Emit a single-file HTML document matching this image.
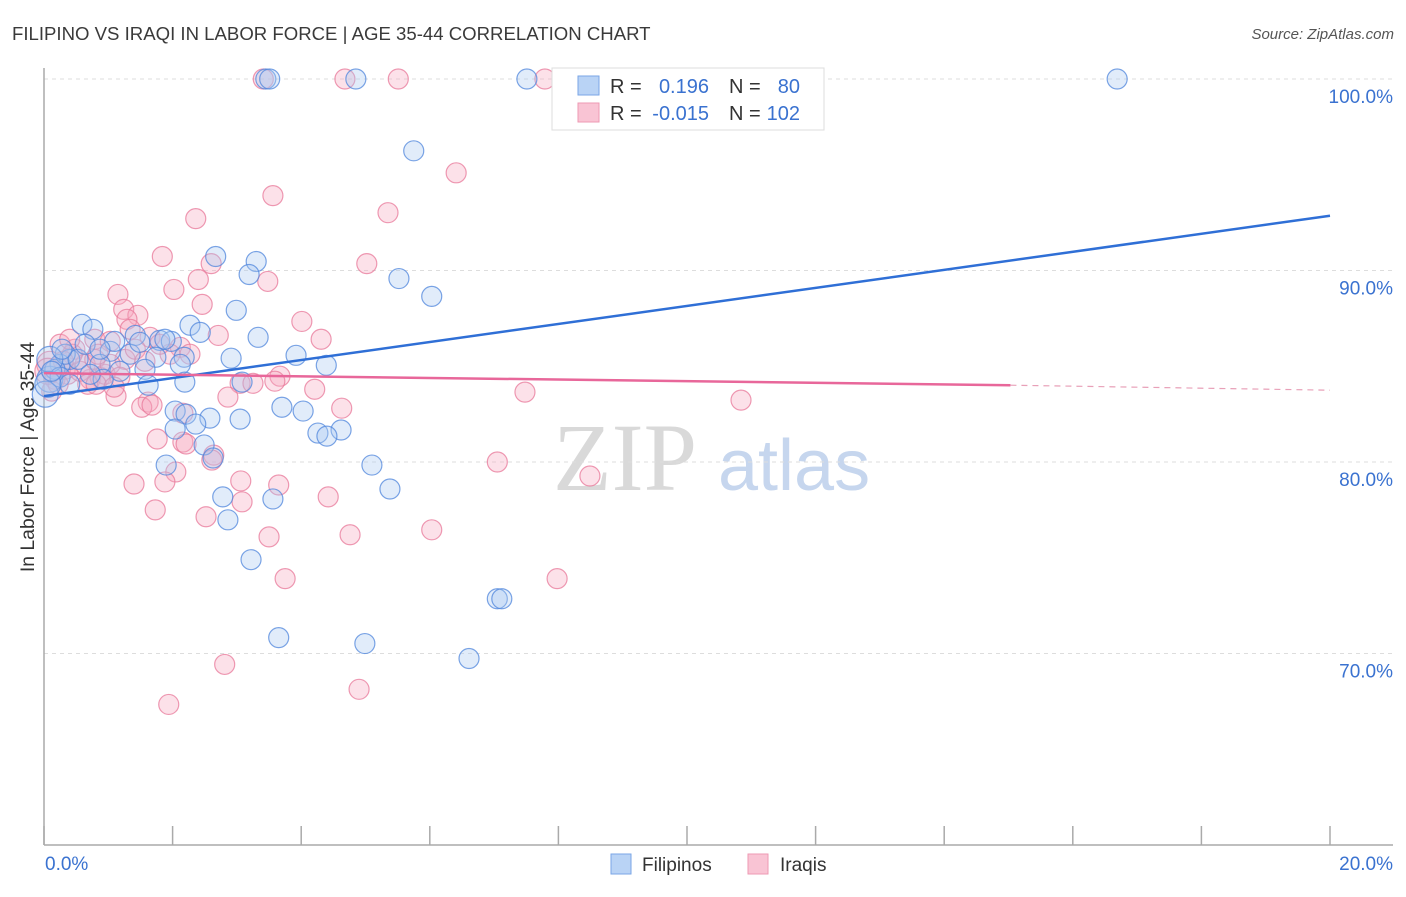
<!DOCTYPE html>
<html><head><meta charset="utf-8">
<style>
html,body{margin:0;padding:0;background:#fff;}
body{width:1406px;height:892px;overflow:hidden;font-family:"Liberation Sans",sans-serif;}
</style></head>
<body>
<svg id="chart" width="1406" height="892" xmlns="http://www.w3.org/2000/svg">
  <text x="12" y="40" font-size="18.6" fill="#3a3a3a">FILIPINO VS IRAQI IN LABOR FORCE | AGE 35-44 CORRELATION CHART</text>
  <text x="1394" y="39" font-size="15" fill="#555" font-style="italic" text-anchor="end">Source: ZipAtlas.com</text>
  <text transform="translate(34,457) rotate(-90)" font-size="19.4" fill="#333" text-anchor="middle">In Labor Force | Age 35-44</text>
  <g>
    <text x="553" y="490" font-size="96" fill="#d9d9d9" font-family="Liberation Serif,serif">ZIP</text>
    <text x="718" y="490" font-size="72" fill="#c6d6ee">atlas</text>
  </g>
  <g id="grid"></g>
  <g id="axes"></g>
  <g id="marks"></g>
  <g id="trends"></g>
  <g>
    <rect x="552" y="68" width="272" height="62" fill="#fff" stroke="#ddd"/>
    <rect x="578" y="76" width="21" height="19" fill="#b9d3f5" stroke="#7aa6e6"/>
    <rect x="578" y="103" width="21" height="19" fill="#f9c4d4" stroke="#ee9ab3"/>
    <text x="610" y="93" font-size="20" fill="#333">R =</text>
    <text x="709" y="93" font-size="20" fill="#3a72d0" text-anchor="end">0.196</text>
    <text x="729" y="93" font-size="20" fill="#333">N =</text>
    <text x="800" y="93" font-size="20" fill="#3a72d0" text-anchor="end">80</text>
    <text x="610" y="120" font-size="20" fill="#333">R =</text>
    <text x="709" y="120" font-size="20" fill="#3a72d0" text-anchor="end">-0.015</text>
    <text x="729" y="120" font-size="20" fill="#333">N =</text>
    <text x="800" y="120" font-size="20" fill="#3a72d0" text-anchor="end">102</text>
  </g>
  <g>
    <rect x="611" y="854" width="20" height="20" fill="#b9d3f5" stroke="#7aa6e6"/>
    <text x="642" y="871" font-size="19" fill="#333">Filipinos</text>
    <rect x="748" y="854" width="20" height="20" fill="#f9c4d4" stroke="#ee9ab3"/>
    <text x="780" y="871" font-size="19" fill="#333">Iraqis</text>
  </g>
</svg>
<script>
const yTicks = [100, 90, 80, 70];
const yTickLabels = ["100.0%", "90.0%", "80.0%", "70.0%"];
const xTicks = [0,2,4,6,8,10,12,14,16,18,20];
const xEndLabels = ["0.0%", "20.0%"];
const filX = [3.45,3.51,4.85,7.51,11.76,16.69,5.75,5.52,6.03,2.67,3.30,3.19,2.99,0.59,0.76,2.27,2.43,3.33,1.42,1.80,1.98,1.03,1.74,2.18,2.91,3.92,4.39,2.12,1.57,0.40,0.25,0.87,1.18,2.19,3.08,1.62,0.92,3.70,4.03,2.04,2.21,2.58,3.05,2.36,2.04,4.26,4.62,4.40,2.49,2.63,1.90,5.10,5.38,2.78,3.56,2.86,3.22,7.05,7.12,3.65,4.99,6.61,0.09,0.17,0.33,0.53,0.72,0.02,0.09,1.10,1.34,0.25,0.40,1.49,1.88,0.64,0.87,0.06,0.12,0.28];
const filY = [100,100,100,100,100,100,96.25,89.58,88.65,90.73,90.47,89.79,87.92,87.19,86.93,87.14,86.77,86.51,86.61,86.35,86.30,85.78,85.47,85.47,85.42,85.57,85.05,85.10,84.84,85.36,85.10,85.10,84.74,84.17,84.17,84.01,84.32,82.86,82.66,82.66,82.50,82.29,82.24,81.98,81.72,81.51,81.67,81.35,80.89,80.21,79.84,79.84,78.59,78.18,78.07,76.98,74.90,72.86,72.86,70.83,70.52,69.74,84.32,84.84,85.63,85.36,84.58,83.54,85.36,86.30,85.63,84.43,84.06,86.25,86.41,86.15,85.89,84.06,84.74,85.89];
const iraX = [3.41,4.68,5.51,7.79,6.41,3.56,5.35,2.36,5.02,1.84,2.40,2.60,3.48,1.15,2.02,2.46,1.24,1.46,1.29,4.01,2.71,4.31,0.79,1.03,1.65,2.12,2.27,1.26,1.96,0.48,0.37,0.72,0.87,3.67,3.59,3.05,3.25,4.21,1.12,2.86,1.62,1.52,1.68,4.63,7.48,10.84,2.16,2.16,2.21,2.64,2.61,7.05,1.76,2.05,1.40,1.88,3.06,3.65,8.49,4.42,3.08,1.73,2.52,6.03,4.76,3.50,3.75,7.98,2.81,4.90,1.94,0.25,0.09,0.17,0.33,0.56,0.64,0.79,0.95,0.44,0.12,0.22,0.06,0.68,1.03,1.18,0.30,0.81,1.42,1.57,1.80,0.84,0.40,1.09,1.34];
const iraY = [100,100,100,100,95.10,93.91,93.02,92.71,90.36,90.73,89.53,90.36,89.43,88.75,89.01,88.23,87.97,87.66,87.45,87.34,86.61,86.41,86.41,86.30,86.51,85.99,85.63,85.36,85.63,85.89,84.58,84.32,84.43,84.48,84.22,84.11,84.11,83.80,83.44,83.39,83.13,82.86,82.97,82.81,83.65,83.23,82.55,81.04,80.94,80.36,80.10,80.00,81.20,79.48,78.85,78.96,79.01,78.80,79.27,78.18,77.92,77.50,77.14,76.46,76.20,76.09,73.91,73.91,69.43,68.13,67.34,86.15,85.10,84.32,84.84,84.74,85.10,85.36,84.58,85.63,83.70,84.06,84.74,84.06,85.10,84.43,85.26,84.06,85.89,85.26,86.15,85.63,86.41,83.91,86.93];
const filTrend = [83.44, 92.86];
const iraTrend = [84.64, 84.01, 83.75];
const iraSolidEnd = 15.03;

const NS = "http://www.w3.org/2000/svg";
const X0 = 44, X1 = 1330, YTOP = 79, YBOT = 845;
function sx(v){ return X0 + (v/20)*(X1-X0); }
function sy(v){ return YTOP + (100-v)*19.15; }
function mk(tag, attrs, parent){
  const e = document.createElementNS(NS, tag);
  for (const k in attrs) e.setAttribute(k, attrs[k]);
  parent.appendChild(e);
  return e;
}
const grid = document.getElementById('grid');
const axes = document.getElementById('axes');
yTicks.forEach((t,i)=>{
  const l = mk('line',{x1:X0,x2:1393,y1:sy(t),y2:sy(t),stroke:'#ddd','stroke-dasharray':'4,4'},grid);
  
  
  const tx = mk('text',{x:1393,y:sy(t)+24,'font-size':19,fill:'#3a72d0','text-anchor':'end'},axes);
  tx.textContent = yTickLabels[i];
  
  
});
const ax = mk('line',{x1:X0,x2:1393,y1:YBOT,y2:YBOT,stroke:'#aaa','stroke-width':1.5},axes);


const ay = mk('line',{x1:X0,x2:X0,y1:68,y2:YBOT,stroke:'#aaa','stroke-width':1.5},axes);


xTicks.forEach(t=>{
  const l = mk('line',{x1:sx(t),x2:sx(t),y1:826,y2:YBOT,stroke:'#aaa','stroke-width':1.5},axes);
  
  
});
const xl0 = mk('text',{x:45,y:870,'font-size':19,fill:'#3a72d0'},axes);
xl0.textContent = xEndLabels[0];


const xl1 = mk('text',{x:1393,y:870,'font-size':19,fill:'#3a72d0','text-anchor':'end'},axes);
xl1.textContent = xEndLabels[1];



const marks = document.getElementById('marks');
function drawPts(xs, ys, fill, stroke, name){
  xs.forEach((x,i)=>{
    const c = mk('circle',{cx:sx(x),cy:sy(ys[i]),r:(x<0.1?13:10),fill:fill,'fill-opacity':0.35,stroke:stroke,'stroke-opacity':0.75,'stroke-width':1.2},marks);
    
    
  });
}
drawPts(iraX, iraY, '#f7a8c0', '#e8789a', 'iraqi-point');
drawPts(filX, filY, '#a9c8f2', '#4f86dc', 'filipino-point');

const tr = document.getElementById('trends');
const fl = mk('line',{x1:sx(0),y1:sy(filTrend[0]),x2:sx(20),y2:sy(filTrend[1]),stroke:'#2f6fd6','stroke-width':2.5},tr);


const il = mk('line',{x1:sx(0),y1:sy(iraTrend[0]),x2:sx(iraSolidEnd),y2:sy(iraTrend[1]),stroke:'#e8679a','stroke-width':2.5},tr);


const id = mk('line',{x1:sx(iraSolidEnd),y1:sy(iraTrend[1]),x2:sx(20),y2:sy(iraTrend[2]),stroke:'#e8a0b8','stroke-width':1.2,'stroke-dasharray':'6,5'},tr);


</script>
</body></html>
